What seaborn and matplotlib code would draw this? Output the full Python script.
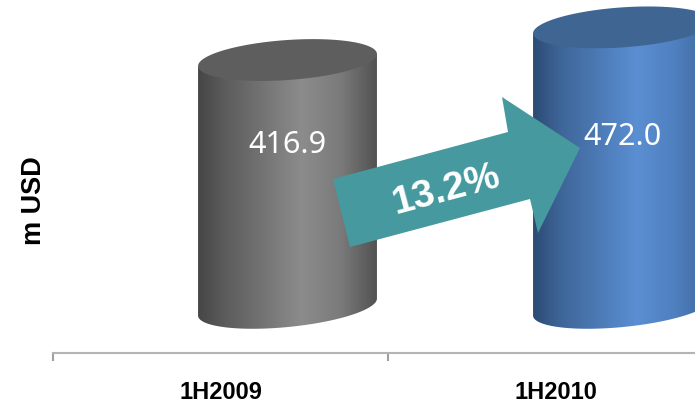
import numpy as np
import pandas as pd
import matplotlib
matplotlib.use("Agg")
import matplotlib.pyplot as plt
from matplotlib.colors import LinearSegmentedColormap
from matplotlib.patches import Polygon
import seaborn as sns

# ---- data ----
categories = ["1H2009", "1H2010"]
values = [416.9, 472.0]
value_labels = ["416.9", "472.0"]
label_heights = [273, 287]
growth_label = "13.2%"
y_axis_label = "m USD"

# ---- style ----
side_colors = [
    ["#464646", "#5c5c5c", "#8c8c8c", "#7a7a7a", "#525252"],
    ["#2c4b74", "#3e6598", "#5a8fd3", "#4f7fbe", "#3d679c"],
]
side_stops = [0.0, 0.15, 0.58, 0.8, 1.0]
top_colors = ["#5e5e5e", "#3f6593"]
arrow_color = "#469a9f"

sns.set_theme(style="white")
plt.rcParams["font.family"] = ["Liberation Sans", "DejaVu Sans"]

W, H = 695, 404
fig = plt.figure(figsize=(W / 100, H / 100), dpi=100)
ax = fig.add_axes([53 / W, 51 / H, 670 / W, 353 / H])

df = pd.DataFrame({"period": categories, "value": values})
sns.barplot(data=df, x="period", y="value", hue="period",
            palette=["#777777", "#4a7bb7"], width=0.534, legend=False,
            ax=ax, saturation=1)

shift = 0.2          # perspective offset of the 3D bars
b = 33.8             # half height of ellipse (data units)
dt = 10.1            # tilt of top ellipse
db = 14.3            # tilt of bottom ellipse

bars = list(ax.patches)
for i, p in enumerate(bars):
    x0 = p.get_x() + shift
    w = p.get_width()
    h = p.get_height()
    x1 = x0 + w
    a = w / 2
    cx = x0 + a
    p.set_visible(False)

    t = np.linspace(0, -np.pi, 120)
    bx = cx + a * np.cos(t)
    by = b * np.sin(t) + db * np.cos(t)
    side_pts = [(x0, h - dt), (x1, h + dt)] + list(zip(bx, by))
    side = Polygon(side_pts, closed=True, facecolor="none", edgecolor="none",
                   transform=ax.transData)
    ax.add_patch(side)
    cmap = LinearSegmentedColormap.from_list(
        f"c{i}", list(zip(side_stops, side_colors[i])))
    grad = np.linspace(0, 1, 256).reshape(1, -1)
    im = ax.imshow(grad, cmap=cmap, aspect="auto",
                   extent=[x0, x1, -b - db - 5, h + dt + 5],
                   origin="lower", zorder=2, interpolation="bilinear")
    im.set_clip_path(side)

    tt = np.linspace(0, 2 * np.pi, 200)
    tx = cx + a * np.cos(tt)
    ty = h + b * np.sin(tt) + dt * np.cos(tt)
    ax.add_patch(Polygon(list(zip(tx, ty)), closed=True,
                         facecolor=top_colors[i], edgecolor="none", zorder=3))

    ax.text(cx, label_heights[i], value_labels[i], ha="center", va="center",
            color="white", fontsize=22, family=["Noto Sans", "DejaVu Sans"],
            zorder=8)

ax.set_xlim(-0.5, 1.5)
ax.set_ylim(-77.6, 518.2)

# growth arrow (annotation, in figure pixels)
arrow_px = [(333, 179), (508, 132), (502, 97), (580, 148),
            (538, 233), (530, 199), (350, 247)]
arrow_fig = [(x / W, 1 - y / H) for x, y in arrow_px]
ax.add_patch(Polygon(arrow_fig, closed=True, facecolor=arrow_color,
                     edgecolor="none", transform=fig.transFigure,
                     clip_on=False, zorder=6))
ax.text(446 / W, 1 - 190 / H, growth_label, transform=fig.transFigure,
        rotation=15, rotation_mode="anchor", ha="center", va="center",
        color="white", fontsize=28, fontweight="bold", zorder=9)

# axes styling
for s in ["left", "top", "right"]:
    ax.spines[s].set_visible(False)
ax.spines["bottom"].set_color("#b4b4b4")
ax.spines["bottom"].set_linewidth(1.5)
ax.set_yticks([])
ax.set_ylabel("")
ax.set_xlabel("")
ax.set_xticks([0, 1])
ax.set_xticklabels(categories, fontsize=17, fontweight="bold", color="black")
ax.set_xticks([-0.5, 0.5, 1.5], minor=True)
ax.tick_params(axis="x", which="major", length=0, pad=20)
ax.tick_params(axis="x", which="minor", length=6, width=1.5,
               color="#a0a0a0", direction="out", bottom=True)

fig.text(34 / W, 1 - 201 / H, y_axis_label, rotation=90, ha="center",
         va="center", fontsize=19.5, fontweight="bold", color="black")

fig.savefig("out.png", dpi=100)
